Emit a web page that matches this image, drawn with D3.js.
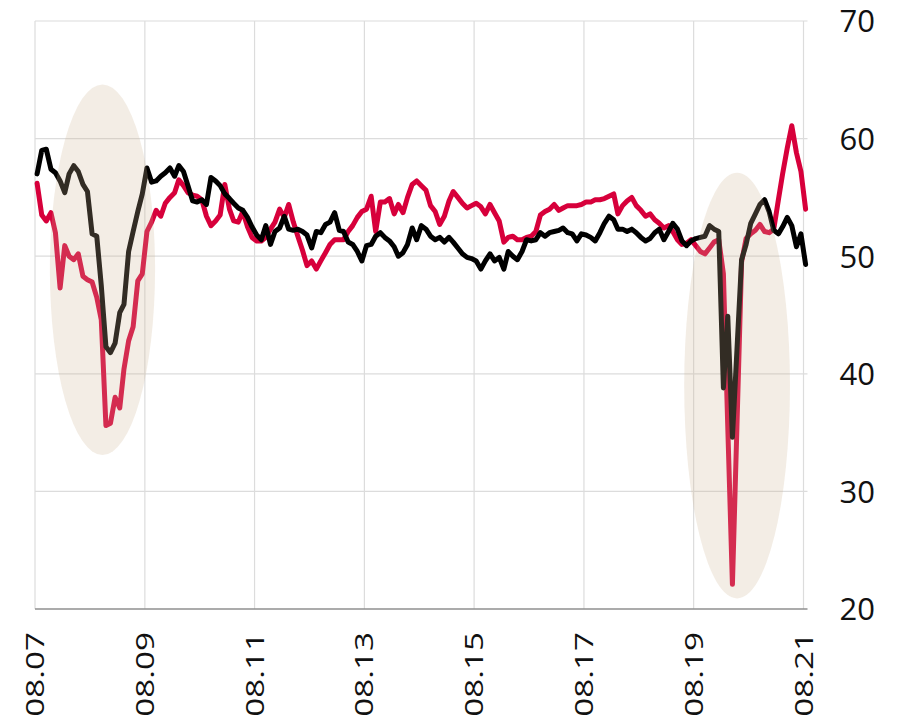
<!DOCTYPE html>
<html>
<head>
<meta charset="utf-8">
<script src="https://cdn.jsdelivr.net/npm/d3@7"></script>
<style>
  html, body { margin: 0; padding: 0; background: #fff; }
  svg { display: block; }
  text { font-family: "Open Sans", "Noto Sans", sans-serif; fill: #111; }
</style>
</head>
<body>
<svg id="chart" width="917" height="718"></svg>
<script>
// ---------- data ----------
const startMonth = "2007-08";   // first monthly observation
const redSeries = [
56.2, 53.5, 53.0, 53.7, 52.0, 47.3, 50.9, 50.0, 49.7, 50.2,
48.3, 48.0, 47.8, 46.5, 44.6, 35.6, 35.8, 38.0, 37.1, 40.4,
42.8, 44.0, 47.9, 48.5, 52.1, 52.9, 53.9, 53.4, 54.5, 55.0,
55.4, 56.5, 56.0, 55.4, 55.2, 55.1, 54.8, 53.4, 52.6, 53.0,
53.5, 56.1, 54.0, 53.0, 52.9, 53.8, 52.5, 51.6, 51.3, 51.3,
51.6, 52.3, 52.9, 54.0, 53.3, 54.4, 52.9, 51.7, 50.5, 49.2,
49.6, 48.9, 49.6, 50.3, 51.0, 51.4, 51.4, 51.4, 52.1, 52.6,
53.3, 53.8, 54.0, 55.1, 52.1, 54.6, 54.6, 54.9, 53.6, 54.4,
53.7, 55.0, 56.1, 56.4, 56.0, 55.6, 54.3, 53.8, 52.7, 53.4,
54.7, 55.5, 55.0, 54.5, 54.1, 54.3, 54.5, 54.2, 53.6, 54.4,
53.7, 53.0, 51.2, 51.6, 51.7, 51.4, 51.4, 51.6, 51.7, 52.1,
53.5, 53.8, 54.0, 54.4, 53.9, 54.1, 54.3, 54.3, 54.3, 54.4,
54.6, 54.6, 54.8, 54.8, 54.9, 55.1, 55.3, 53.6, 54.3, 54.7,
55.0, 54.3, 53.9, 53.4, 53.6, 53.1, 52.8, 52.4, 52.6, 52.1,
51.4, 51.0, 51.1, 51.4, 50.9, 50.4, 50.2, 50.7, 51.2, 51.4,
48.5, 35.5, 22.1, 35.5, 49.5, 51.5, 51.9, 52.2, 52.7, 52.1,
52.0, 52.3, 54.8, 57.0, 59.2, 61.1, 58.8, 57.2, 54.0
];
const blackSeries = [
57.0, 59.0, 59.1, 57.4, 57.1, 56.4, 55.4, 57.0, 57.7, 57.2,
56.1, 55.5, 51.9, 51.7, 47.5, 42.3, 41.8, 42.6, 45.2, 45.9,
50.4, 52.1, 53.8, 55.3, 57.5, 56.3, 56.4, 56.8, 57.1, 57.5,
56.8, 57.7, 57.2, 56.0, 54.7, 54.6, 54.8, 54.4, 56.7, 56.4,
56.0, 55.3, 54.9, 54.5, 54.1, 53.9, 53.3, 52.5, 51.8, 51.4,
52.6, 51.0, 52.1, 52.4, 53.4, 52.3, 52.2, 52.3, 52.1, 51.8,
50.7, 52.1, 52.0, 52.7, 52.9, 53.7, 52.2, 52.1, 51.2, 51.0,
50.4, 49.6, 50.9, 51.0, 51.7, 52.0, 51.6, 51.3, 50.8, 50.0,
50.3, 51.0, 52.4, 51.4, 52.6, 52.3, 51.7, 51.4, 51.6, 51.2,
51.6, 51.2, 50.7, 50.2, 49.9, 49.8, 49.6, 48.9, 49.6, 50.2,
49.6, 49.9, 48.9, 50.4, 50.0, 49.7, 50.4, 51.4, 51.3, 51.4,
52.0, 51.7, 52.0, 52.1, 52.2, 52.4, 52.0, 51.9, 51.3, 51.9,
51.8, 51.6, 51.3, 52.0, 52.8, 53.4, 53.1, 52.3, 52.3, 52.1,
52.3, 52.0, 51.6, 51.3, 51.5, 52.0, 52.3, 51.4, 52.1, 52.8,
52.3, 51.3, 50.9, 51.3, 51.5, 51.6, 51.7, 52.6, 52.3, 52.1,
38.8, 44.9, 34.6, 42.0, 49.7, 51.0, 52.8, 53.6, 54.4, 54.8,
53.8, 52.2, 51.9, 52.5, 53.3, 52.6, 50.8, 51.9, 49.3
];
const xTickDates = ["2007-08-01","2009-08-01","2011-08-01","2013-08-01","2015-08-01","2017-08-01","2019-08-01","2021-08-01"];
const yTickValues = [20, 30, 40, 50, 60, 70];
// highlighted periods: [start date, end date, low value, high value]
const highlights = [
  ["2007-11-08", "2009-10-08", 33.1, 64.6],
  ["2019-05-30", "2021-05-03", 20.9, 57.1]
];

// ---------- chart ----------
(function () {
const parse = d3.timeParse("%Y-%m-%d");
const [sy, sm] = startMonth.split("-").map(Number);
const dateOf = i => new Date(sy, sm - 1 + i, 15);
const red = redSeries.map((v, i) => ({date: dateOf(i), v}));
const black = blackSeries.map((v, i) => ({date: dateOf(i), v}));

const svg = d3.select("#chart");
const mLeft = 35, mRight = 803.5, mTop = 21, mBottom = 609;

const x = d3.scaleTime()
  .domain([parse(xTickDates[0]), parse(xTickDates[xTickDates.length - 1])])
  .range([mLeft, mRight]);
const y = d3.scaleLinear().domain([20, 70]).range([mBottom, mTop]);

// horizontal grid
svg.append("g").selectAll("line").data(yTickValues.filter(v => v > 20)).join("line")
  .attr("x1", mLeft).attr("x2", mRight + 4)
  .attr("y1", d => y(d)).attr("y2", d => y(d))
  .attr("stroke", "#dcdcdc").attr("stroke-width", 1.2);

// vertical grid
const xTicks = xTickDates.map(parse);
svg.append("g").selectAll("line").data(xTicks).join("line")
  .attr("x1", d => x(d)).attr("x2", d => x(d))
  .attr("y1", mTop).attr("y2", mBottom)
  .attr("stroke", "#dcdcdc").attr("stroke-width", 1.2);

// bottom axis line
svg.append("line").attr("x1", mLeft).attr("x2", mRight + 4)
  .attr("y1", mBottom).attr("y2", mBottom)
  .attr("stroke", "#8f8f8f").attr("stroke-width", 1.5);

// right axis labels
const yAxis = d3.axisRight(y).tickValues(yTickValues).tickSize(0).tickFormat(d3.format("d"));
const yg = svg.append("g").attr("transform", `translate(${mRight + 36},0)`).call(yAxis);
yg.select(".domain").remove();
yg.selectAll("text").attr("x", 0).attr("dy", "0.35em")
  .style("font-family", '"Open Sans", sans-serif').style("font-size", "31px")
  .attr("fill", "#111").attr("text-anchor", "start");

// x labels
const fmt = d3.timeFormat("%m.%y");
svg.append("g").selectAll("text").data(xTicks).join("text")
  .attr("transform", d => `translate(${x(d) + 9},632) rotate(-90) scale(1.33,1)`)
  .attr("text-anchor", "end")
  .style("font-size", "25px")
  .text(d => fmt(d));

// lines
const line = d3.line().x(d => x(d.date)).y(d => y(d.v));
svg.append("path").datum(red).attr("d", line)
  .attr("fill", "none").attr("stroke", "#d7003b").attr("stroke-width", 5)
  .attr("stroke-linejoin", "round").attr("stroke-linecap", "round");
svg.append("path").datum(black).attr("d", line)
  .attr("fill", "none").attr("stroke", "#000").attr("stroke-width", 5)
  .attr("stroke-linejoin", "round").attr("stroke-linecap", "round");

// highlight ellipses (drawn on top, translucent)
svg.append("g").selectAll("ellipse").data(highlights).join("ellipse")
  .attr("cx", d => (x(parse(d[0])) + x(parse(d[1]))) / 2)
  .attr("cy", d => (y(d[2]) + y(d[3])) / 2)
  .attr("rx", d => (x(parse(d[1])) - x(parse(d[0]))) / 2)
  .attr("ry", d => (y(d[2]) - y(d[3])) / 2)
  .attr("fill", "#ceb494").attr("fill-opacity", 0.245);
})();
</script>
</body>
</html>
